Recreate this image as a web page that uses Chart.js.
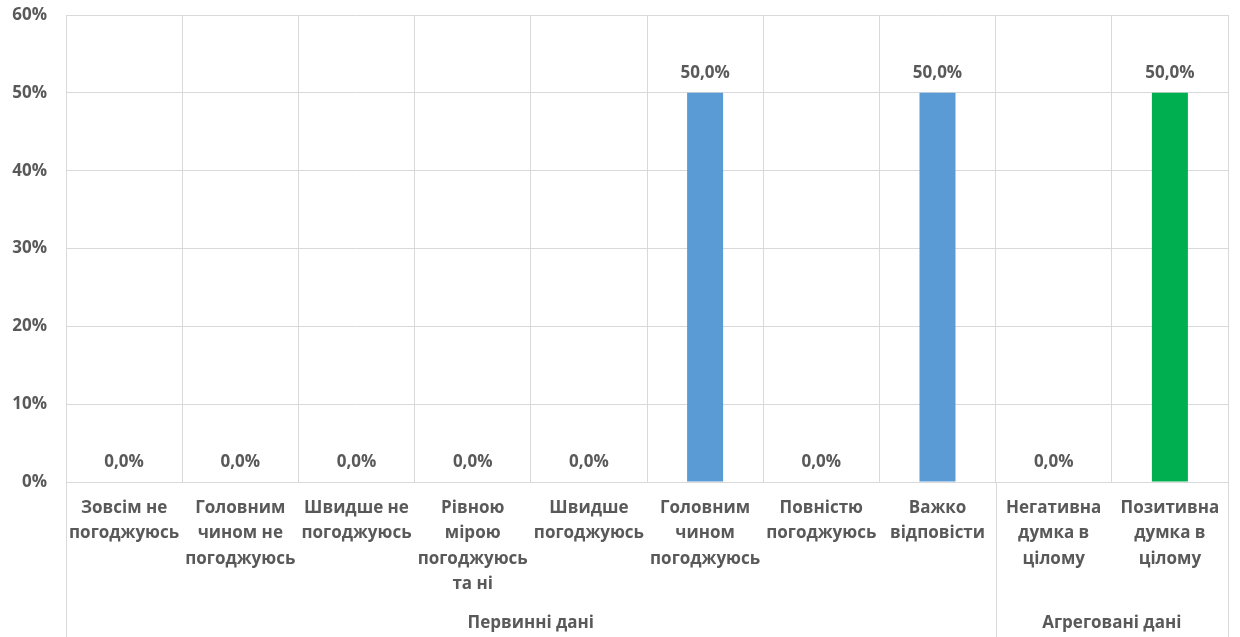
<!DOCTYPE html>
<html>
<head>
<meta charset="utf-8">
<script src="https://cdn.jsdelivr.net/npm/chart.js@4"></script>
<style>
  html, body { margin: 0; padding: 0; background: #fff; }
  #wrap { width: 1240px; height: 637px; }
</style>
</head>
<body>
<div id="wrap"><canvas id="chart"></canvas></div>
<script>
// categories (multi-line labels) and values
const categories = [
    ["Зовсім не", "погоджуюсь"],
    ["Головним", "чином не", "погоджуюсь"],
    ["Швидше не", "погоджуюсь"],
    ["Рівною", "мірою", "погоджуюсь", "та ні"],
    ["Швидше", "погоджуюсь"],
    ["Головним", "чином", "погоджуюсь"],
    ["Повністю", "погоджуюсь"],
    ["Важко", "відповісти"],
    ["Негативна", "думка в", "цілому"],
    ["Позитивна", "думка в", "цілому"]
];
const values = [0, 0, 0, 0, 0, 0.5, 0, 0.5, 0, 0.5];
const barColors = ["#5B9BD5", "#5B9BD5", "#5B9BD5", "#5B9BD5", "#5B9BD5",
    "#5B9BD5", "#5B9BD5", "#5B9BD5", "#00B050", "#00B050"];
// groups: label, first index, last index
const groups = [
    ["Первинні дані", 0, 7],
    ["Агреговані дані", 8, 9]
];
const yTicks = [0, 0.1, 0.2, 0.3, 0.4, 0.5, 0.6];

const textColor = '#595959';
const gridColor = '#d9d9d9';
const fontFamily = "'Open Sans', 'Noto Sans', sans-serif";

function pct(v, digits) {
    return (v * 100).toFixed(digits).replace('.', ',') + '%';
}

// value labels above bars
const valueLabels = {
    id: 'valueLabels',
    afterDatasetsDraw(chart) {
        const ctx = chart.ctx;
        const meta = chart.getDatasetMeta(0);
        ctx.save();
        ctx.fillStyle = textColor;
        ctx.font = "bold 17px " + fontFamily;
        ctx.textAlign = 'center';
        ctx.textBaseline = 'middle';
        meta.data.forEach((bar, i) => {
            ctx.fillText(pct(values[i], 1), bar.x, bar.y - 20);
        });
        ctx.restore();
    }
};

// group separators and group labels under the axis
const groupAxis = {
    id: 'groupAxis',
    afterDraw(chart) {
        const ctx = chart.ctx;
        const x = chart.scales.x;
        const area = chart.chartArea;
        const half = (x.getPixelForValue(1) - x.getPixelForValue(0)) / 2;
        ctx.save();
        ctx.strokeStyle = gridColor;
        ctx.lineWidth = 1;
        const edges = [x.getPixelForValue(0) - half];
        groups.forEach(g => edges.push(x.getPixelForValue(g[2]) + half));
        edges.forEach(px => {
            const p = Math.round(px) + 0.5;
            ctx.beginPath();
            ctx.moveTo(p, area.bottom);
            ctx.lineTo(p, chart.height);
            ctx.stroke();
        });
        ctx.fillStyle = textColor;
        ctx.font = "bold 17px " + fontFamily;
        ctx.textAlign = 'center';
        ctx.textBaseline = 'middle';
        groups.forEach(g => {
            const cx = (x.getPixelForValue(g[1]) + x.getPixelForValue(g[2])) / 2;
            ctx.fillText(g[0], cx, chart.height - 14);
        });
        ctx.restore();
    }
};

new Chart(document.getElementById('chart'), {
    type: 'bar',
    data: {
        labels: categories,
        datasets: [{
            data: values,
            backgroundColor: barColors,
            categoryPercentage: 1,
            barPercentage: 0.31
        }]
    },
    options: {
        responsive: true,
        maintainAspectRatio: false,
        animation: false,
        layout: { padding: { top: 15, right: 12, left: 0, bottom: 0 } },
        plugins: {
            legend: { display: false },
            tooltip: { enabled: false }
        },
        scales: {
            x: {
                grid: { color: gridColor, offset: true, drawTicks: false },
                border: { color: gridColor },
                ticks: {
                    color: textColor,
                    font: { family: fontFamily, size: 17, weight: 'bold', lineHeight: 1.5 },
                    padding: 13,
                    maxRotation: 0,
                    autoSkip: false
                },
                afterFit(scale) { scale.height = 155; }
            },
            y: {
                min: 0,
                max: 0.6,
                grid: { color: gridColor, drawTicks: false },
                border: { display: false },
                afterBuildTicks(scale) { scale.ticks = yTicks.map(v => ({ value: v })); },
                afterFit(scale) {
                    scale.width = 66;
                    scale.paddingTop = 0;
                },
                ticks: {
                    color: textColor,
                    font: { family: fontFamily, size: 17, weight: 'bold' },
                    padding: 19,
                    callback: v => pct(v, 0)
                }
            }
        }
    },
    plugins: [valueLabels, groupAxis]
});
</script>
</body>
</html>
